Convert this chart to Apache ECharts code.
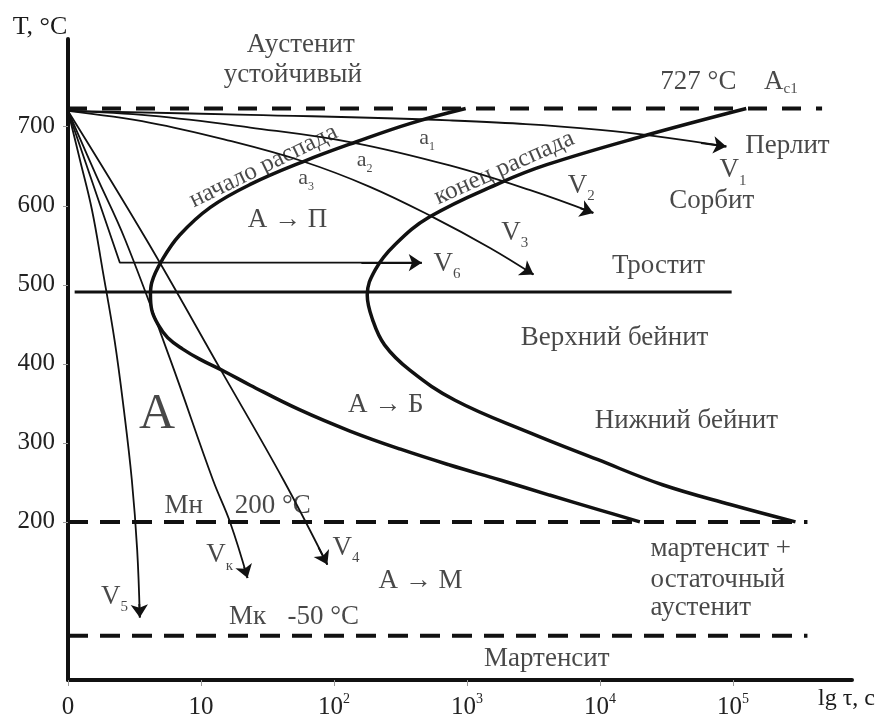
<!DOCTYPE html>
<html>
<head>
<meta charset="utf-8">
<title>Диаграмма изотермического распада аустенита</title>
<style>
    html, body { margin: 0; padding: 0; background: #fff; }
    #chart { width: 885px; height: 718px; }
</style>
<script src="https://cdn.jsdelivr.net/npm/echarts@6/dist/echarts.min.js"></script>
</head>
<body>
<div id="chart"></div>
<script>
// x: lg of time in decades (1 -> 10 s, 2 -> 10^2 s ...), y: temperature in °C
const xTicks = [0, 1, 2, 3, 4, 5];
const xTickLabels = ['0', '10', '10{sup|2}', '10{sup|3}', '10{sup|4}', '10{sup|5}'];
const yTicks = [200, 300, 400, 500, 600, 700];

// C-кривые
const startCurve = [[2.99, 723], [2.57, 704], [2.17, 681], [1.77, 656], [1.37, 627], [1.07, 598], [0.84, 563], [0.71, 532],
    [0.63, 503], [0.62, 487], [0.63, 468], [0.68, 449], [0.75, 433], [0.86, 419], [0.99, 406], [1.18, 390], [1.37, 373],
    [1.74, 342], [2.12, 315], [2.50, 292], [2.87, 272], [3.25, 253], [3.62, 234], [4.00, 215], [4.30, 200]];
const finishCurve = [[5.10, 723], [4.30, 687], [3.60, 652], [3.25, 629], [2.72, 586], [2.46, 551], [2.31, 519], [2.25, 487],
    [2.29, 456], [2.38, 424], [2.57, 392], [2.91, 354], [3.47, 313], [3.98, 279], [4.47, 247], [4.98, 222], [5.47, 200]];

// скорости охлаждения
const v1 = [[0, 720], [1.37, 715], [2.87, 708], [4.0, 696], [4.95, 675]];
const v2 = [[0, 720], [0.62, 714], [1.37, 699], [2.14, 680], [2.87, 651], [3.47, 620], [3.95, 591]];
const v3 = [[0, 720], [0.62, 705], [1.22, 682], [1.77, 656], [2.27, 624], [2.74, 586], [3.17, 547], [3.50, 513]];
const v4 = [[0, 720], [0.59, 557], [1.15, 392], [1.62, 253], [1.95, 146]];
const v5 = [[0, 720], [0.09, 658], [0.18, 595], [0.26, 519], [0.35, 430], [0.42, 342], [0.48, 253], [0.52, 165], [0.54, 79]];
const vk = [[0, 720], [0.21, 639], [0.43, 557], [0.77, 405], [1.09, 253], [1.22, 199], [1.35, 129]];
const v6 = [[0, 720], [0.39, 528], [2.66, 528]];

// горизонтальные линии
const ac1Line = [[0, 723], [5.67, 723]];
const mnLine = [[0, 200], [5.56, 200]];
const mkLine = [[0, 56], [5.56, 56]];
const bainiteLine = [[0.05, 491], [4.99, 491]];

// подписи [текст, x, y]
const textNotes = [
    ['Аустенит', 1.75, 804], ['устойчивый', 1.69, 766],
    ['727 °C', 4.74, 757], ['A{sub|c1}', 5.36, 757],
    ['Перлит', 5.41, 676], ['Сорбит', 4.84, 606],
    ['А → П', 1.65, 582], ['Тростит', 4.44, 524],
    ['Верхний бейнит', 4.11, 433], ['А → Б', 2.39, 348], ['Нижний бейнит', 4.65, 328],
    ['Мн', 0.87, 220], ['200 °C', 1.54, 220],
    ['А → М', 2.65, 125], ['Мк', 1.35, 80], ['-50 °C', 1.92, 80],
    ['Мартенсит', 3.60, 27]
];
const leftNotes = [['мартенсит +', 4.38, 166], ['остаточный', 4.38, 127], ['аустенит', 4.38, 91]];
const rateNotes = [
    ['V{sub|1}', 5.0, 645], ['V{sub|2}', 3.86, 625], ['V{sub|3}', 3.36, 566],
    ['V{sub|4}', 2.09, 167], ['V{sub|5}', 0.35, 105], ['V{sub|6}', 2.85, 527], ['V{sub|к}', 1.14, 158]
];
const pointNotes = [['a{sub|1}', 2.70, 686], ['a{sub|2}', 2.23, 658], ['a{sub|3}', 1.79, 635]];
const bigNotes = [['А', 0.67, 335]];
const curveNotes = [['начало распада', 1.47, 650, 26], ['конец распада', 3.28, 648, 24]];

const FONT = 'Liberation Serif';
const INK = '#111';

function curva(data, width, smooth, arrow) {
    const s = {
        type: 'line',
        data: data,
        smooth: smooth,
        showSymbol: false,
        silent: true,
        lineStyle: { color: INK, width: width }
    };
    if (arrow) {
        // стрелка на последнем отрезке
        const a = data[data.length - 2], b = data[data.length - 1];
        const p = [a[0] + (b[0] - a[0]) * 0.8, a[1] + (b[1] - a[1]) * 0.8];
        s.markLine = {
            silent: true,
            symbol: ['none', 'arrow'],
            symbolSize: 13,
            label: { show: false },
            lineStyle: { color: INK, width: width, type: 'solid' },
            data: [[{ coord: p }, { coord: b }]]
        };
    }
    return s;
}

function recta(data, width, dash) {
    return {
        type: 'line',
        data: data,
        showSymbol: false,
        silent: true,
        lineStyle: { color: INK, width: width, type: dash || 'solid', cap: 'butt' }
    };
}

function notas(list, fontSize, lineHeight, position) {
    return {
        type: 'scatter',
        symbolSize: 0,
        silent: true,
        itemStyle: { color: 'transparent' },
        data: list.map(n => ({
            value: [n[1], n[2]],
            name: n[0],
            label: n[3] !== undefined ? { rotate: n[3] } : undefined
        })),
        label: {
            show: true,
            position: position || 'inside',
            distance: 0,
            formatter: p => p.name,
            fontFamily: FONT,
            fontSize: fontSize,
            lineHeight: lineHeight,
            color: '#1a1a1a',
            rich: {
                sub: { fontFamily: FONT, fontSize: Math.round(fontSize * 0.55), verticalAlign: 'bottom', lineHeight: 12, color: '#1a1a1a' }
            }
        },
        z: 5
    };
}

const chart = echarts.init(document.getElementById('chart'));
chart.setOption({
    animation: false,
    textStyle: { fontFamily: FONT },
    grid: { left: 68, right: 33, top: 39, bottom: 38, outerBoundsMode: 'none', containLabel: false },
    xAxis: {
        type: 'value',
        min: 0,
        max: 5.895,
        name: 'lg τ, c',
        nameLocation: 'end',
        nameGap: -34,
        nameTextStyle: { fontFamily: FONT, fontSize: 24, color: '#1a1a1a', verticalAlign: 'top', padding: [7, 0, 0, 0] },
        axisLine: { lineStyle: { color: INK, width: 4 } },
        axisTick: { customValues: xTicks, length: 6, lineStyle: { color: '#999', width: 1 } },
        axisLabel: {
            customValues: xTicks,
            formatter: v => xTickLabels[xTicks.indexOf(v)],
            fontFamily: FONT, fontSize: 25, color: '#222', margin: 12, lineHeight: 30,
            rich: { sup: { fontFamily: FONT, fontSize: 14, verticalAlign: 'top', lineHeight: 14, color: '#222' } }
        },
        splitLine: { show: false }
    },
    yAxis: {
        type: 'value',
        min: 0,
        max: 811,
        name: 'T, °C',
        nameLocation: 'end',
        nameGap: 12,
        nameTextStyle: { fontFamily: FONT, fontSize: 26, color: '#1a1a1a', align: 'center', verticalAlign: 'middle', padding: [0, 56, 0, 0] },
        axisLine: { lineStyle: { color: INK, width: 4 } },
        axisTick: { customValues: yTicks, length: 5, lineStyle: { color: '#999', width: 1 } },
        axisLabel: { customValues: yTicks, fontFamily: FONT, fontSize: 25, color: '#222', margin: 13 },
        splitLine: { show: false }
    },
    series: [
        recta(ac1Line, 4, [19, 15]),
        recta(mnLine, 4, [20, 12]),
        recta(mkLine, 4, [20, 12]),
        recta(bainiteLine, 3),
        curva(startCurve, 3.5, 0.4, false),
        curva(finishCurve, 3.5, 0.4, false),
        curva(v1, 1.8, 0.4, true),
        curva(v2, 1.8, 0.4, true),
        curva(v3, 1.8, 0.4, true),
        curva(v4, 1.8, 0.4, true),
        curva(v5, 1.8, 0.4, true),
        curva(vk, 1.8, 0.4, true),
        curva(v6, 1.8, false, true),
        notas(textNotes, 27, 30),
        notas(leftNotes, 27, 30, 'right'),
        notas(rateNotes, 27, 36),
        notas(pointNotes, 22, 30),
        notas(bigNotes, 50, 56),
        notas(curveNotes, 25, 28)
    ]
});
</script>
</body>
</html>
